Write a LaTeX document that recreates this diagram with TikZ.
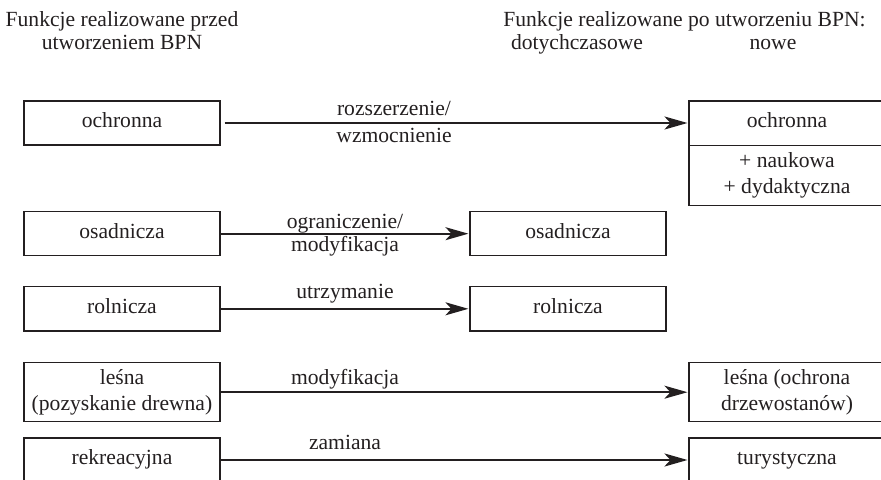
\documentclass[tikz,border=0pt]{standalone}
\usepackage{fontspec}
\setmainfont{Liberation Serif}
\usetikzlibrary{arrows.meta}
\definecolor{ink}{HTML}{231F20}
\begin{document}
\begin{tikzpicture}[x=0.5pt,y=-0.5pt,
  every node/.style={text=ink,font=\fontsize{10.8}{13}\selectfont},
  box/.style={draw=ink,line width=0.55pt,minimum width=98pt,inner sep=0pt,align=center},
  one/.style={text height=0.7em,text depth=0.25em},
  flow/.style={draw=ink,line width=1.1pt,-{Stealth[length=11.5pt,width=6.5pt,inset=3pt]},shorten >=0.5pt},
  lab/.style={anchor=base}]
\useasboundingbox (0,0) rectangle (881,480);
\clip (0,0) rectangle (881,480);

% headers
\node[lab] (h1) at (122,27) {Funkcje realizowane przed};
\node[lab] (h2) at (122,50) {utworzeniem BPN};
\node[lab] (h3) at (684.5,27) {Funkcje realizowane po utworzeniu BPN:};
\node[lab] (h4) at (577,50) {dotychczasowe};
\node[lab] (h5) at (773,50) {nowe};

% left column
\node[box,one,minimum height=22pt] (l1) at (122,123) {ochronna};
\node[box,one,minimum height=22pt] (l2) at (122,233.7) {osadnicza};
\node[box,one,minimum height=22.15pt] (l3) at (122,308.8) {rolnicza};
\node[box,minimum height=29.5pt] (l4) at (122,392.2) {leśna\\(pozyskanie drewna)};
\node[box,one,minimum height=22pt] (l5) at (122,460) {rekreacyjna};

% middle column
\node[box,one,minimum height=22pt] (m2) at (568,233.7) {osadnicza};
\node[box,one,minimum height=22.15pt] (m3) at (568,308.8) {rolnicza};

% right column
\node[box,one,minimum height=22.35pt] (r1a) at (787,123.4) {ochronna};
\node[box,minimum height=30pt] (r1b) at (787,175.7) {+ naukowa\\+ dydaktyczna};
\node[box,minimum height=29.5pt] (r4) at (787,392.2) {leśna (ochrona\\drzewostanów)};
\node[box,one,minimum height=22pt] (r5) at (787,460) {turystyczna};

% connectors
\draw[flow] ([xshift=2pt]l1.east) -- (l1.east -| r1a.west);
\draw[flow] (l2.east) -- (m2.west);
\draw[flow] (l3.east) -- (m3.west);
\draw[flow] (l4.east) -- (r4.west);
\draw[flow] (l5.east) -- (r5.west);

% connector labels
\node[lab] (t1a) at (394,116) {rozszerzenie/};
\node[lab] (t1b) at (394,143) {wzmocnienie};
\node[lab] (t2a) at (345,228) {ograniczenie/};
\node[lab] (t2b) at (345,251) {modyfikacja};
\node[lab] (t3) at (345,299) {utrzymanie};
\node[lab] (t4) at (345,384) {modyfikacja};
\node[lab] (t5) at (345,449) {zamiana};
\end{tikzpicture}
\end{document}
